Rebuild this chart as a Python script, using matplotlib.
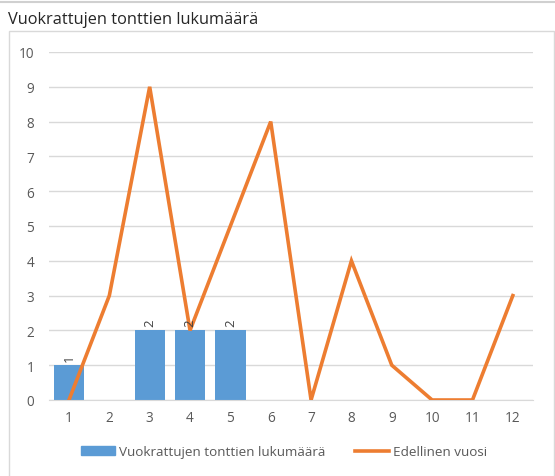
import matplotlib
matplotlib.use("Agg")
import matplotlib.pyplot as plt
from matplotlib.patches import Rectangle
from matplotlib.lines import Line2D

categories = ["1", "2", "3", "4", "5", "6", "7", "8", "9", "10", "11", "12"]
bar_values = [1, 0, 2, 2, 2, 0, 0, 0, 0, 0, 0, 0]
line_values = [0, 3, 9, 2, 5, 8, 0, 4, 1, 0, 0, 3]
bar_label = "Vuokrattujen tonttien lukumäärä"
line_label = "Edellinen vuosi"
title = "Vuokrattujen tonttien lukumäärä"

BLUE = "#5B9BD5"
ORANGE = "#ED7D31"
TXT = "#595959"
FONT = ["Open Sans", "DejaVu Sans"]
plt.rcParams["font.family"] = FONT

W, H = 555, 477
fig = plt.figure(figsize=(W / 100, H / 100), dpi=100)

# decorations: top line, chart border
fig.add_artist(Line2D([0, 1], [1 - 3 / H, 1 - 3 / H], color="#d0d0d0", lw=1.5, transform=fig.transFigure))
fig.add_artist(Rectangle((9 / W, -0.01), (554 - 9) / W, 1 - 32 / H + 0.01, transform=fig.transFigure,
                         fill=False, edgecolor="#d9d9d9", lw=1))
fig.text(8 / W, 1 - 20 / H, title, ha="left", va="center", fontsize=11.8, color="#262626")

ax = fig.add_axes([48.8 / W, 1 - 401 / H, (533 - 48.8) / W, (401 - 53) / H])
x = list(range(1, len(categories) + 1))
bars = ax.bar(x, bar_values, width=0.75, color=BLUE, zorder=2, label=bar_label)
ax.plot(x, line_values, color=ORANGE, lw=2.6, zorder=3, label=line_label, solid_joinstyle="miter")

for xi, v in zip(x, bar_values):
    if v:
        ax.text(xi, v + 0.12, str(v), rotation=90, ha="center", va="bottom", fontsize=9.5, color="#404040")

ax.set_xlim(0.5, len(categories) + 0.5)
ax.set_ylim(0, 10)
ax.set_yticks(range(0, 11))
ax.set_xticks(x)
ax.set_xticklabels(categories)
ax.grid(axis="y", color="#d9d9d9", lw=1, zorder=0)
for s in ["top", "right", "left"]:
    ax.spines[s].set_visible(False)
ax.spines["bottom"].set_color("#d9d9d9")
ax.tick_params(axis="both", length=0, labelsize=9.8, colors=TXT, pad=7)
ax.tick_params(axis="y", pad=10.5)

leg = fig.legend(handles=[Rectangle((0, 0), 1, 1, color=BLUE), Line2D([0], [0], color=ORANGE, lw=2.6)],
                 labels=[bar_label, line_label], loc="center", bbox_to_anchor=(0.512, 1 - 453 / H),
                 ncol=2, frameon=False, fontsize=9.7, handlelength=2.5, handleheight=0.6,
                 columnspacing=2.2, handletextpad=0.3, labelcolor=TXT)

fig.savefig("out.png", dpi=100)
